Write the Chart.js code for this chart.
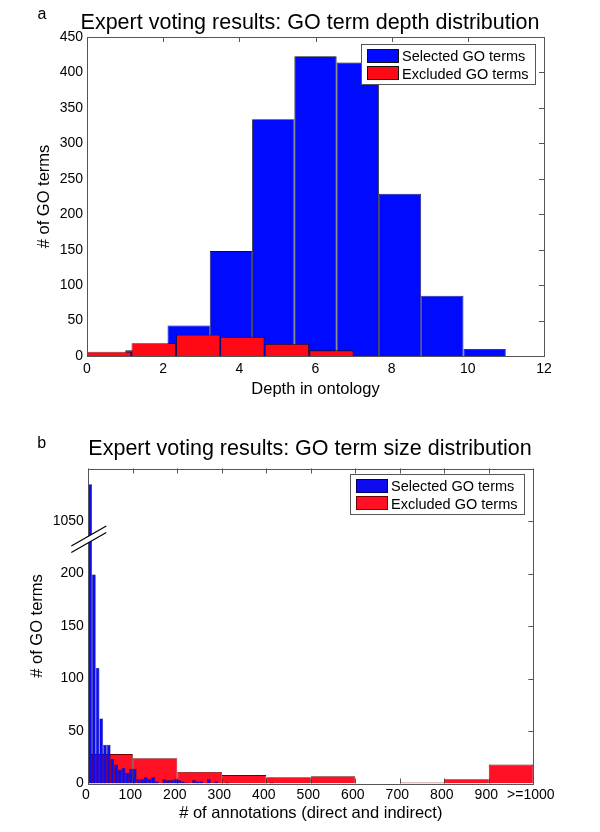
<!DOCTYPE html>
<html>
<head>
<meta charset="utf-8">
<script src="https://cdn.jsdelivr.net/npm/chart.js@4.4.1/dist/chart.umd.min.js"></script>
<style>
  body { margin: 0; background: #fff; }
  canvas { position: absolute; left: 0; }
  #depth { top: 0; }
  #size { top: 410px; }
</style>
</head>
<body>
<canvas id="depth" width="600" height="410"></canvas>
<canvas id="size" width="600" height="422"></canvas>
<script>
const FONT = '"Liberation Sans", Arial, Helvetica, sans-serif';

const seriesLabels = ['Selected GO terms', 'Excluded GO terms'];

// panel a: depth in ontology (bin centres and counts)
const depthSelectedCenters = [1.56, 2.67, 3.78, 4.89, 6.00, 7.11, 8.22, 9.33, 10.44];
const depthSelectedCounts = [8, 43, 148, 334, 423, 414, 229, 85, 10];
const depthExcludedCenters = [0.58, 1.75, 2.92, 4.08, 5.25, 6.42];
const depthExcludedCounts = [6, 18, 30, 27, 17, 8];

// panel b: number of annotations
const sizeSelectedBinWidth = 1000 / 120;
const sizeSelectedCounts = [
  1085, 199, 110, 62, 37, 37, 23, 18, 13, 15,
  10, 14, 14, 4, 4, 6, 4, 6, 2, 0,
  4, 3, 3, 4, 3, 2, 1, 0, 3, 2,
  2, 0, 4, 0, 2, 0, 0, 1, 0, 0,
  0, 0, 0, 0, 0, 0, 0, 0, 0, 1
];
const sizeSelectedCenters = sizeSelectedCounts.map((_, i) => (i + 0.5) * sizeSelectedBinWidth);
const sizeExcludedCenters = [50, 150, 250, 350, 450, 550, 650, 750, 850, 950];
const sizeExcludedCounts = [28, 24, 11, 8, 6, 7, 0, 1, 4, 18];
const sizeXTickLabels = ['0', '100', '200', '300', '400', '500', '600', '700', '800', '900', '>=1000'];
// y axis is broken: counts above the break are drawn this much lower
const sizeBreakShift = 800;
const sizeBreakBelow = 200;

const points = (xs, ys, f) => xs.map((x, i) => ({ x, y: f ? f(ys[i]) : ys[i] }));

Chart.defaults.font.family = FONT;
Chart.defaults.color = '#000';
Chart.defaults.animation = false;

// matlab-like box, inward ticks, legend, titles
const matlabAxes = {
  id: 'matlabAxes',
  beforeDatasetsDraw(chart) {
    const { ctx, chartArea: a, scales: { x, y } } = chart;
    ctx.save();
    ctx.strokeStyle = '#555';
    ctx.lineWidth = 1;
    ctx.beginPath();
    x.ticks.forEach(t => {
      const px = Math.round(x.getPixelForValue(t.value)) + 0.5;
      ctx.moveTo(px, a.top); ctx.lineTo(px, a.top + 5);
      ctx.moveTo(px, a.bottom); ctx.lineTo(px, a.bottom - 5);
    });
    y.ticks.forEach(t => {
      const py = Math.round(y.getPixelForValue(t.value)) + 0.5;
      ctx.moveTo(a.right, py); ctx.lineTo(a.right - 5, py);
    });
    ctx.stroke();
    ctx.restore();
  },
  afterDatasetsDraw(chart, args, o) {
    const { ctx, chartArea: a, scales: { y } } = chart;
    ctx.save();
    ctx.strokeStyle = '#555';
    ctx.lineWidth = 1;
    const l = Math.round(a.left) + 0.5, t = Math.round(a.top) + 0.5;
    ctx.strokeRect(l, t, Math.round(a.right) - Math.round(a.left), Math.round(a.bottom) - Math.round(a.top));

    if (o.breakValue) {
      const py = y.getPixelForValue(o.breakValue);
      const gap = 3.3, x0 = a.left - 17, x1 = a.left + 18, rise = 10;
      ctx.fillStyle = '#fff';
      ctx.beginPath();
      ctx.moveTo(x0, py - gap + rise); ctx.lineTo(x1, py - gap - rise);
      ctx.lineTo(x1, py + gap - rise); ctx.lineTo(x0, py + gap + rise);
      ctx.closePath();
      ctx.fill();
      ctx.strokeStyle = '#000';
      ctx.lineWidth = 1.2;
      ctx.beginPath();
      ctx.moveTo(x0, py - gap + rise); ctx.lineTo(x1, py - gap - rise);
      ctx.moveTo(x0, py + gap + rise); ctx.lineTo(x1, py + gap - rise);
      ctx.stroke();
    }

    // legend
    const w = 174, h = 40;
    const bx = Math.round(a.right - o.legendRight - w) + 0.5;
    const by = Math.round(a.top + o.legendTop) + 0.5;
    ctx.fillStyle = '#fff';
    ctx.fillRect(bx, by, w, h);
    ctx.strokeStyle = '#555';
    ctx.lineWidth = 1;
    ctx.strokeRect(bx, by, w, h);
    ctx.font = '14.5px ' + FONT;
    ctx.textBaseline = 'middle';
    ctx.textAlign = 'left';
    chart.data.datasets.forEach((ds, i) => {
      const sy = Math.round(by + 4 + i * 17.8) + 0.5;
      ctx.fillStyle = ds.backgroundColor;
      ctx.fillRect(bx + 6, sy, 31, 13);
      ctx.strokeStyle = ds.borderColor;
      ctx.strokeRect(bx + 6, sy, 31, 13);
      ctx.fillStyle = '#000';
      ctx.fillText(ds.label, bx + 40.5, by + 12.3 + i * 17.8);
    });
    ctx.restore();
  },
  afterDraw(chart, args, o) {
    const { ctx } = chart;
    ctx.save();
    ctx.fillStyle = '#000';
    ctx.textAlign = 'center';
    ctx.textBaseline = 'alphabetic';
    ctx.font = '21.5px ' + FONT;
    ctx.fillText(o.title, o.titleX, o.titleY);
    ctx.textBaseline = 'middle';
    ctx.font = '16px ' + FONT;
    ctx.fillText(o.letter, o.letterX, o.letterY);
    ctx.restore();
  }
};

const tickFont = { size: 14 };
const titleFont = { size: 16.5 };
const barDefaults = { grouped: false, categoryPercentage: 1, barPercentage: 1, inflateAmount: 0 };

new Chart(document.getElementById('depth'), {
  type: 'bar',
  data: {
    datasets: [
      {
        label: seriesLabels[0],
        data: points(depthSelectedCenters, depthSelectedCounts),
        xAxisID: 'x',
        backgroundColor: 'rgb(0, 10, 255)',
        borderColor: '#111',
        borderWidth: 0.8,
        order: 1
      },
      {
        label: seriesLabels[1],
        data: points(depthExcludedCenters, depthExcludedCounts),
        xAxisID: 'x2',
        backgroundColor: 'rgb(255, 10, 20)',
        borderColor: '#111',
        borderWidth: 0.8,
        order: 0
      }
    ]
  },
  options: {
    responsive: false,
    layout: { padding: { left: 0, top: 37, right: 56, bottom: 0 } },
    datasets: { bar: barDefaults },
    scales: {
      x: {
        type: 'linear', min: 0, max: 12, offset: false,
        grid: { display: false, drawTicks: false },
        border: { display: false },
        ticks: { stepSize: 2, padding: 5, font: tickFont, maxRotation: 0 },
        title: { display: true, text: 'Depth in ontology', font: titleFont, padding: { top: 0, bottom: 10.3 } },
        afterFit: s => { s.height = 54; }
      },
      x2: { type: 'linear', display: false, min: 0, max: 12, offset: false, ticks: { stepSize: 12 } },
      y: {
        min: 0, max: 450,
        grid: { display: false, drawTicks: false },
        border: { display: false },
        ticks: { stepSize: 50, padding: 4, font: tickFont },
        title: { display: true, text: '# of GO terms', font: titleFont, padding: { top: 35, bottom: 0 } },
        afterFit: s => { s.width = 87; }
      }
    },
    plugins: {
      legend: { display: false },
      tooltip: { enabled: false },
      matlabAxes: {
        letter: 'a', letterX: 42, letterY: 14.5,
        title: 'Expert voting results: GO term depth distribution', titleX: 310, titleY: 28.7,
        legendTop: 7, legendRight: 9
      }
    }
  },
  plugins: [matlabAxes]
});

const shiftAboveBreak = v => (v > sizeBreakBelow + 100 ? v - sizeBreakShift : v);

new Chart(document.getElementById('size'), {
  type: 'bar',
  data: {
    datasets: [
      {
        label: seriesLabels[0],
        data: points(sizeSelectedCenters, sizeSelectedCounts, shiftAboveBreak),
        xAxisID: 'x',
        backgroundColor: 'rgb(12, 12, 238)',
        borderColor: 'rgb(0, 0, 90)',
        borderWidth: 0.55
      },
      {
        label: seriesLabels[1],
        data: points(sizeExcludedCenters, sizeExcludedCounts),
        xAxisID: 'x2',
        backgroundColor: 'rgb(255, 16, 36)',
        borderColor: 'rgb(110, 0, 0)',
        borderWidth: 0.8
      }
    ]
  },
  options: {
    responsive: false,
    layout: { padding: { left: 0, top: 58.5, right: 66.7, bottom: 0 } },
    datasets: { bar: barDefaults },
    scales: {
      x: {
        type: 'linear', min: 0, max: 1000, offset: false,
        grid: { display: false, drawTicks: false },
        border: { display: false },
        ticks: {
          stepSize: 100, padding: 3.5, font: tickFont, maxRotation: 0, autoSkip: false,
          labelOffset: -2.5,
          callback: (v, i) => sizeXTickLabels[i]
        },
        title: { display: true, text: '# of annotations (direct and indirect)', font: titleFont, padding: { top: 0, bottom: 9.1 } },
        afterFit: s => { s.height = 48.5; }
      },
      x2: { type: 'linear', display: false, min: 0, max: 1000, offset: false, ticks: { stepSize: 1000 } },
      y: {
        min: 0, max: 300,
        grid: { display: false, drawTicks: false },
        border: { display: false },
        ticks: {
          stepSize: 50, padding: 4.5, font: tickFont, includeBounds: false,
          callback: v => (v <= sizeBreakBelow ? v : (v === 250 ? v + sizeBreakShift : ''))
        },
        title: { display: true, text: '# of GO terms', font: titleFont, padding: { top: 28, bottom: 0 } },
        afterFit: s => { s.width = 88.3; }
      }
    },
    plugins: {
      legend: { display: false },
      tooltip: { enabled: false },
      matlabAxes: {
        letter: 'b', letterX: 41.7, letterY: 33.8,
        title: 'Expert voting results: GO term size distribution', titleX: 310, titleY: 45,
        legendTop: 5.7, legendRight: 9, breakValue: 232.6
      }
    }
  },
  plugins: [matlabAxes]
});
</script>
</body>
</html>
